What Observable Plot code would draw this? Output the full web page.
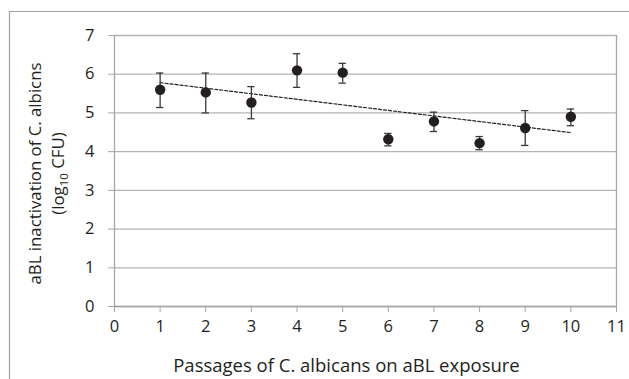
<!DOCTYPE html>
<html>
<head>
<meta charset="utf-8">
<script src="https://cdn.jsdelivr.net/npm/d3@7"></script>
<script src="https://cdn.jsdelivr.net/npm/@observablehq/plot@0.6"></script>
<style>
  html, body { margin: 0; padding: 0; background: #fff; }
  svg { display: block; }
</style>
</head>
<body>
<div id="chart"></div>
<script>
const passages = [1, 2, 3, 4, 5, 6, 7, 8, 9, 10];
const means    = [5.60, 5.53, 5.27, 6.10, 6.04, 4.32, 4.78, 4.22, 4.61, 4.90];
const errHigh  = [6.03, 6.03, 5.68, 6.53, 6.28, 4.47, 5.02, 4.39, 5.06, 5.10];
const errLow   = [5.14, 5.00, 4.85, 5.66, 5.77, 4.15, 4.52, 4.05, 4.16, 4.67];
const xTicks = [0, 1, 2, 3, 4, 5, 6, 7, 8, 9, 10, 11];
const yTicks = [0, 1, 2, 3, 4, 5, 6, 7];

const data = passages.map((p, i) => ({x: p, y: means[i], hi: errHigh[i], lo: errLow[i]}));

const FONT = "'Open Sans', sans-serif";
const AXIS = "#a6a6a6";
const GRID = "#b4b4b4";
const capHalf = 0.08;

const chart = Plot.plot({
  width: 629,
  height: 379,
  marginLeft: 114,
  marginRight: 13,
  marginTop: 35,
  marginBottom: 73,
  style: {fontFamily: FONT, fontSize: "16.5px", color: "#231f20", background: "#fff"},
  x: {domain: [0, 11]},
  y: {domain: [0, 7]},
  marks: [
    Plot.gridY(yTicks, {stroke: GRID, strokeOpacity: 1, strokeWidth: 1.3}),
    Plot.ruleX([11], {stroke: AXIS, strokeWidth: 1.3}),
    Plot.ruleX([0], {stroke: AXIS, strokeWidth: 1.3}),
    Plot.ruleY([0], {stroke: AXIS, strokeWidth: 1.3}),
    Plot.axisY({ticks: yTicks, tickFormat: d3.format("d"), tickSize: 6, tickPadding: 14, stroke: AXIS, strokeOpacity: 1, label: null, fill: "#231f20", fontSize: 16.5}),
    Plot.axisX({ticks: xTicks, tickFormat: d3.format("d"), tickSize: 6, tickPadding: 8, stroke: AXIS, strokeOpacity: 1, label: null, fill: "#231f20", fontSize: 16.5}),
    Plot.linearRegressionY(data, {x: "x", y: "y", ci: 0, stroke: "#231f20", strokeWidth: 1.2, strokeDasharray: "3,2"}),
    Plot.ruleX(data, {x: "x", y1: "lo", y2: "hi", stroke: "#3a3a3a", strokeWidth: 1.3}),
    Plot.ruleY(data, {y: "hi", x1: d => d.x - capHalf, x2: d => d.x + capHalf, stroke: "#3a3a3a", strokeWidth: 1.3}),
    Plot.ruleY(data, {y: "lo", x1: d => d.x - capHalf, x2: d => d.x + capHalf, stroke: "#3a3a3a", strokeWidth: 1.3}),
    Plot.dot(data, {x: "x", y: "y", r: 5.2, fill: "#231f20", stroke: "none"})
  ]
});

const svg = d3.select(chart);
// outer figure frame
svg.insert("path", ":first-child")
  .attr("d", "M9.5,379V11.5H629")
  .attr("fill", "none").attr("stroke", "#a0a0a0").attr("stroke-width", 1.2);

// x title
svg.append("text")
  .attr("x", 346.5).attr("y", 372)
  .attr("text-anchor", "middle")
  .attr("fill", "#231f20").attr("font-family", FONT).attr("font-size", 18.5)
  .text("Passages of C. albicans on aBL exposure");

// y title (two lines)
const yt = svg.append("g").attr("transform", "translate(0,173.5) rotate(-90)")
  .attr("fill", "#231f20").attr("font-family", FONT).attr("font-size", 16.8)
  .attr("text-anchor", "middle");
yt.append("text").attr("x", 0).attr("y", 41).text("aBL inactivation of C. albicns");
const t2 = yt.append("text").attr("x", 0).attr("y", 64);
t2.append("tspan").text("(log");
t2.append("tspan").attr("font-size", 11.5).attr("dy", 4).text("10");
t2.append("tspan").attr("dy", -4).text(" CFU)");

document.getElementById("chart").appendChild(chart);
</script>
</body>
</html>
